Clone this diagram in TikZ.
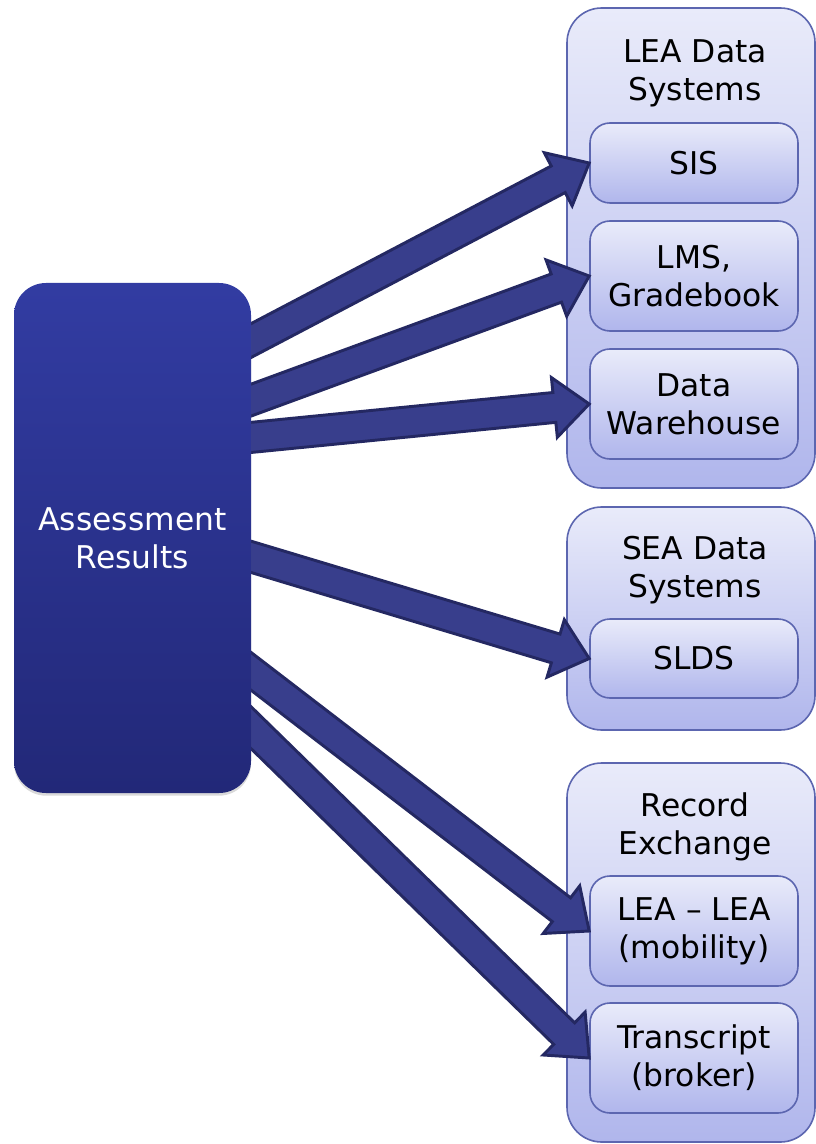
\documentclass[tikz,border=0pt]{standalone}
\usepackage{fontspec}
\setmainfont{DejaVu Sans}
\usetikzlibrary{calc,shadows}
\definecolor{boxtop}{RGB}{50,60,162}
\definecolor{boxbot}{RGB}{34,40,120}
\definecolor{arrfill}{RGB}{56,62,140}
\definecolor{arrline}{RGB}{36,40,98}
\definecolor{paletop}{RGB}{233,235,250}
\definecolor{palebot}{RGB}{176,182,236}
\definecolor{paleline}{RGB}{92,102,176}
\newcommand\flowarrow[2]{%
	\path ($(#2)!26.25pt!(#1)$) coordinate (fa-h);
	\filldraw[flowarr] ($(#1)!11.25pt!90:(#2)$) -- ($(fa-h)!11.25pt!-90:(#1)$) -- ($(fa-h)!22.5pt!-90:(#1)$) -- (#2)
	-- ($(fa-h)!22.5pt!90:(#1)$) -- ($(fa-h)!11.25pt!90:(#1)$) -- ($(#1)!11.25pt!-90:(#2)$) -- cycle;}
\begin{document}
\begin{tikzpicture}[x=0.75pt,y=-0.75pt,line join=miter,
	font=\fontsize{23.5}{28.5}\selectfont,
	group/.style={draw=paleline,line width=1.2pt,rounded corners=26pt,top color=paletop,bottom color=palebot,minimum width=186pt,inner sep=0pt},
	item/.style={draw=paleline,line width=1.2pt,rounded corners=15pt,top color=paletop,bottom color=palebot,minimum width=156pt,minimum height=82.5pt,align=center,inner sep=0pt},
	title/.style={align=center,inner sep=0pt},
	source/.style={rounded corners=24pt,top color=boxtop,bottom color=boxbot,minimum width=177.75pt,minimum height=382.5pt,text=white,align=center,drop shadow={opacity=0.3,shadow xshift=0pt,shadow yshift=-2pt}},
	flowarr/.style={fill=arrfill,draw=arrline,line width=2.2pt}]
	\useasboundingbox (0,0) rectangle (816,1144);
	\node[group,minimum height=360pt] (lea) at (691,248) {};
	\node[group,minimum height=167.25pt] (sea) at (691,618.5) {};
	\node[group,minimum height=284.25pt] (rec) at (691,952.5) {};
	\node[title] (leat) at (695,73) {LEA Data\\Systems};
	\node[title] (seat) at (695,570) {SEA Data\\Systems};
	\node[title] (rect) at (695,827) {Record\\Exchange};
	\node[item,minimum height=60pt] (sis) at (694,163) {SIS};
	\node[item] (lms) at (694,276) {LMS,\\Gradebook};
	\node[item] (dw) at (694,404) {Data\\Warehouse};
	\node[item,minimum height=59.25pt] (slds) at (694,658.5) {SLDS};
	\node[item] (mob) at (694,931) {LEA -- LEA\\(mobility)};
	\node[item] (trans) at (694,1058) {Transcript\\(broker)};
	\coordinate (s1) at (235,349);
	\coordinate (s2) at (235,406);
	\coordinate (s3) at (235,439);
	\coordinate (s4) at (235,552);
	\coordinate (s5) at (235,659);
	\coordinate (s6) at (235,712);
	\flowarrow{s1}{sis.west}
	\flowarrow{s2}{lms.west}
	\flowarrow{s3}{dw.west}
	\flowarrow{s4}{slds.west}
	\flowarrow{s5}{mob.west}
	\flowarrow{s6}{trans.west}
	\node[source] (assess) at (132.5,538) {Assessment\\Results};
\end{tikzpicture}
\end{document}
